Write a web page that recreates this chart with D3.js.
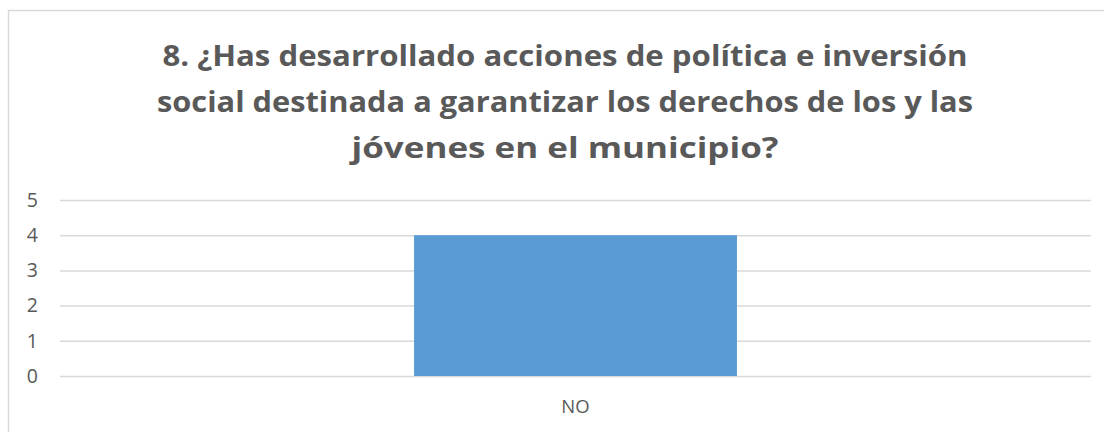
<!DOCTYPE html>
<html><head><meta charset="utf-8">
<script src="https://cdn.jsdelivr.net/npm/d3@7"></script>
<style>body{margin:0;background:#fff;}</style>
</head><body>
<svg id="c" width="1104" height="432"></svg>
<script>
const titleLines = ["8. ¿Has desarrollado acciones de política e inversión",
  "social destinada a garantizar los derechos de los y las",
  "jóvenes en el municipio?"];
const categories = ["NO"];
const values = [4];
const yTicks = [0,1,2,3,4,5];

const svg = d3.select("#c");
svg.append("rect").attr("x",8.5).attr("y",10.5).attr("width",1110).attr("height",440)
  .attr("fill","#fff").attr("stroke","#d9d9d9").attr("stroke-width",1.5);

const titleWidths = [805, 816, 427];
svg.append("g").selectAll("text").data(titleLines).join("text")
  .attr("x",565).attr("y",(d,i)=>66+i*46)
  .attr("text-anchor","middle")
  .attr("font-family","'Open Sans', 'Liberation Sans', sans-serif")
  .attr("font-weight","bold").attr("font-size",29).attr("fill","#595959")
  .attr("textLength",(d,i)=>titleWidths[i]).attr("lengthAdjust","spacingAndGlyphs")
  .text(d=>d);

const x = d3.scaleBand().domain(categories).range([60,1091]).paddingInner(0.523).paddingOuter(0.523);
const y = d3.scaleLinear().domain([0,5]).range([376,200]);

const yAxis = d3.axisLeft(y).tickValues(yTicks).tickSize(-(1091-60)).tickPadding(22).tickFormat(d3.format("d"));
const gy = svg.append("g").attr("transform","translate(60,0)").call(yAxis);
gy.select(".domain").remove();
gy.selectAll(".tick line").attr("stroke","#d9d9d9").attr("stroke-width",1.5);
gy.selectAll(".tick text").attr("font-family","'Open Sans', sans-serif").attr("font-size",19.5).attr("fill","#595959");

svg.append("g").selectAll("rect").data(values).join("rect")
  .attr("x",(d,i)=>x(categories[i])).attr("width",x.bandwidth())
  .attr("y",d=>y(d)).attr("height",d=>y(0)-y(d)).attr("fill","#5b9bd5");

const xAxis = d3.axisBottom(x).tickSize(0).tickPadding(24);
const gx = svg.append("g").attr("transform","translate(0,376)").call(xAxis);
gx.select(".domain").remove();
gx.selectAll(".tick text").attr("font-family","'Open Sans', sans-serif").attr("font-size",18.5).attr("fill","#595959");
</script>
</body></html>
